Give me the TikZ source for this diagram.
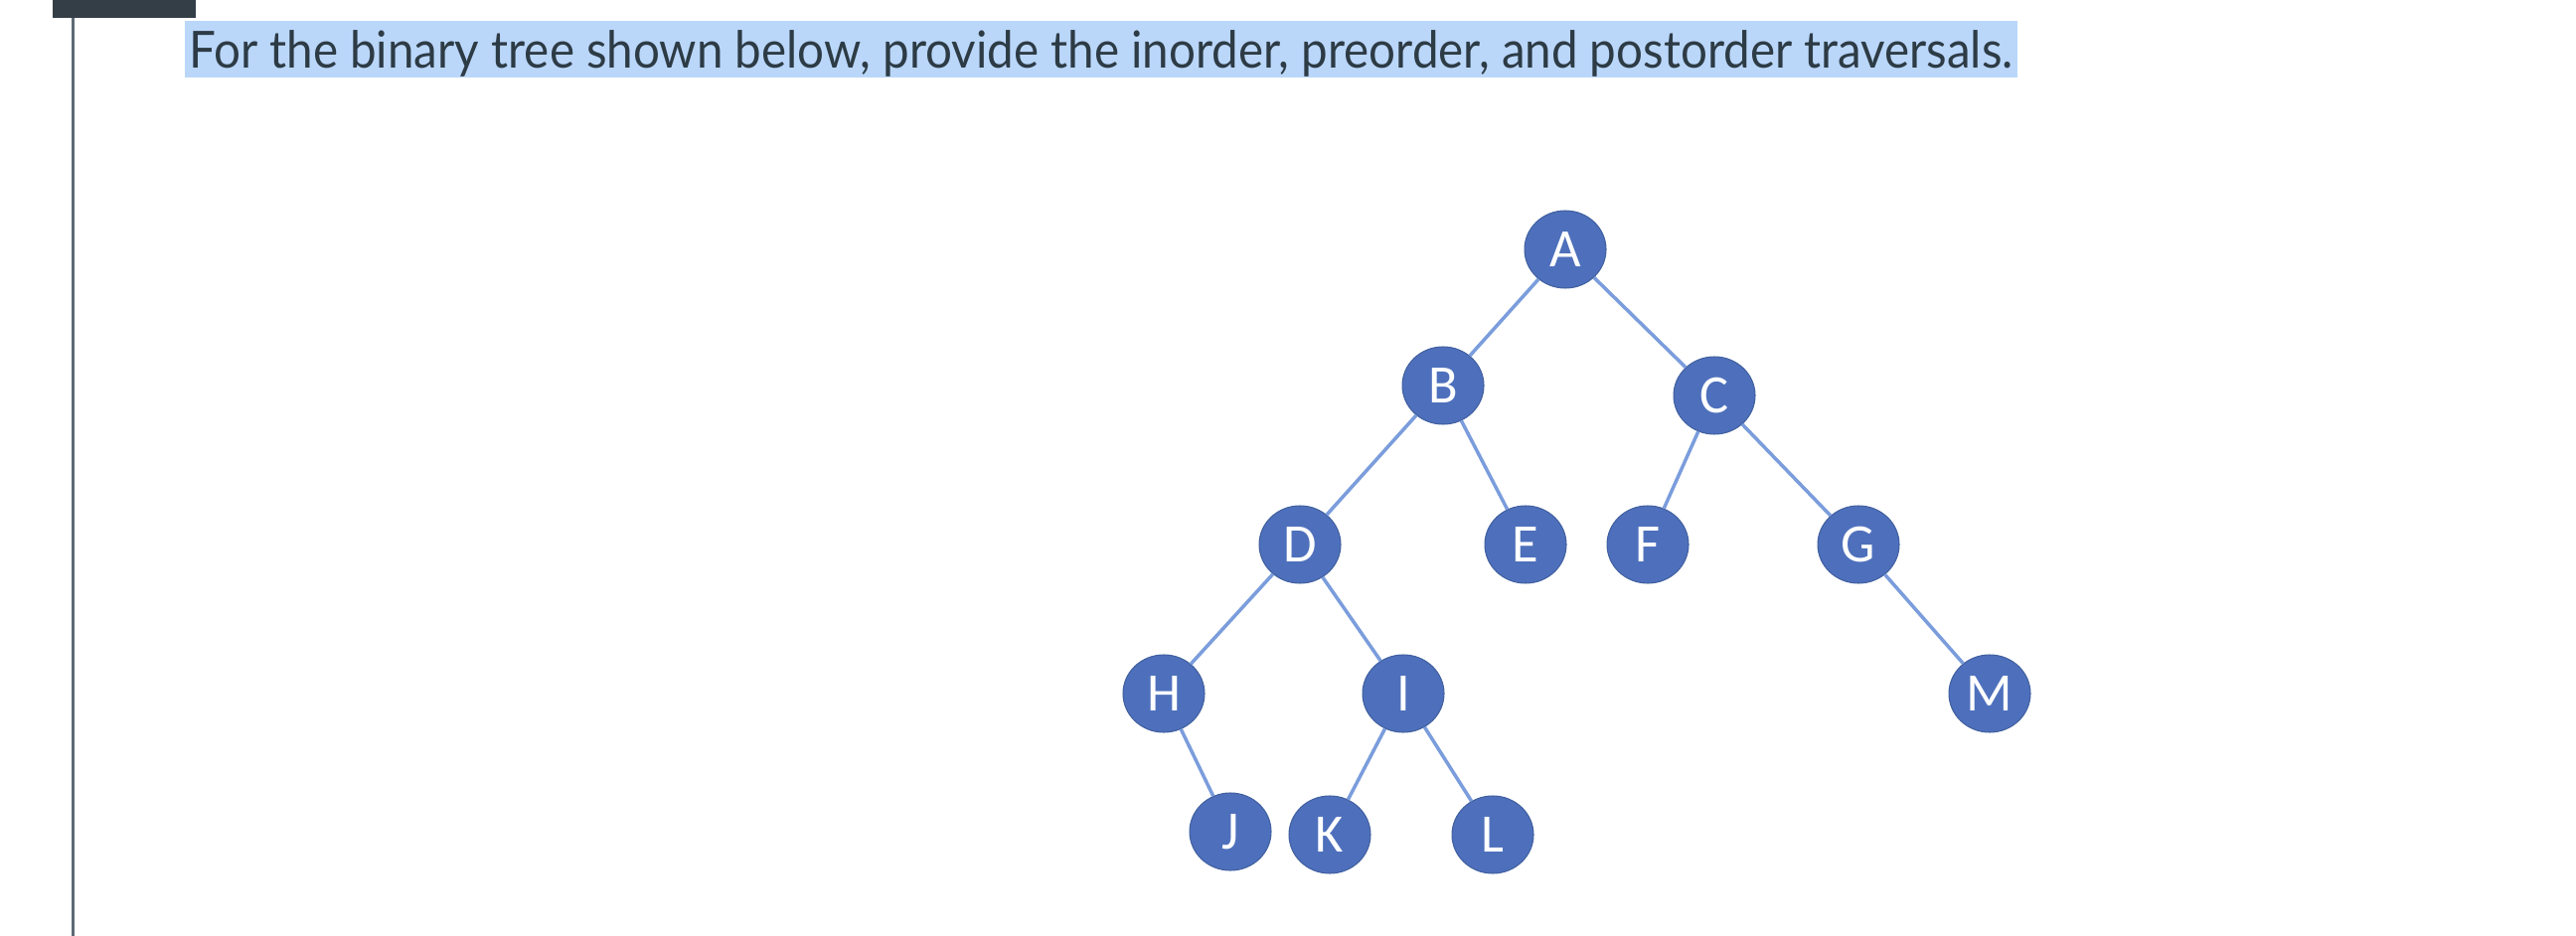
\documentclass[tikz,border=0pt]{standalone}
\usepackage{fontspec}
\setmainfont{Lato}
\newfontfamily\nodefont{Carlito}
\usetikzlibrary{shapes.geometric}

\definecolor{inkgray}{HTML}{2D3B45}
\definecolor{barcol}{HTML}{343E47}
\definecolor{railcol}{HTML}{5E6A75}
\definecolor{hilite}{HTML}{BAD7FA}
\definecolor{nodeblue}{HTML}{4E70BC}
\definecolor{nodeedge}{HTML}{41609F}
\definecolor{linkblue}{HTML}{7B9DDC}

\tikzset{
  treenode/.style={ellipse, fill=nodeblue, draw=nodeedge, line width=0.6pt,
    minimum width=1.64cm, minimum height=1.56cm, inner sep=0pt,
    text=white, font=\nodefont\fontsize{31}{31}\selectfont},
  link/.style={draw=linkblue, line width=2pt}
}

\begin{document}
\begin{tikzpicture}[x=0.02cm, y=-0.02cm]
        \useasboundingbox (0,0) rectangle (2592,942);

        % Page frame (dark tab and left rail)
        \fill[barcol] (53,0) rectangle (197,18);
        \fill[railcol] (72,18) rectangle (75,942);

        % Question text (highlighted)
        \node[anchor=base west, fill=hilite, inner xsep=0.08cm, inner ysep=0pt,
              text height=0.96cm, text depth=0.18cm, text=inkgray,
              font=\fontsize{29.3}{30}\selectfont] (question) at (186,69)
              {\scalebox{0.923}[1]{For the binary tree shown below, provide the inorder, preorder, and postorder traversals.}};

        % Tree nodes
        \node[treenode] (A) at (1575,251) {A};
        \node[treenode] (B) at (1452,388) {B};
        \node[treenode] (C) at (1725,398) {C};
        \node[treenode] (D) at (1308,548) {D};
        \node[treenode] (E) at (1535,548) {E};
        \node[treenode] (F) at (1658,548) {F};
        \node[treenode] (G) at (1870,548) {G};
        \node[treenode] (H) at (1171,698) {H};
        \node[treenode] (I) at (1412,698) {I};
        \node[treenode] (M) at (2002,698) {M};
        \node[treenode] (J) at (1238,837) {J};
        \node[treenode] (K) at (1338,840) {K};
        \node[treenode] (L) at (1502,840) {L};

        % Links
        \draw[link] (A) -- (B);
        \draw[link] (A) -- (C);
        \draw[link] (B) -- (D);
        \draw[link] (B) -- (E);
        \draw[link] (C) -- (F);
        \draw[link] (C) -- (G);
        \draw[link] (D) -- (H);
        \draw[link] (D) -- (I);
        \draw[link] (G) -- (M);
        \draw[link] (H) -- (J);
        \draw[link] (I) -- (K);
        \draw[link] (I) -- (L);
    \end{tikzpicture}
\end{document}
